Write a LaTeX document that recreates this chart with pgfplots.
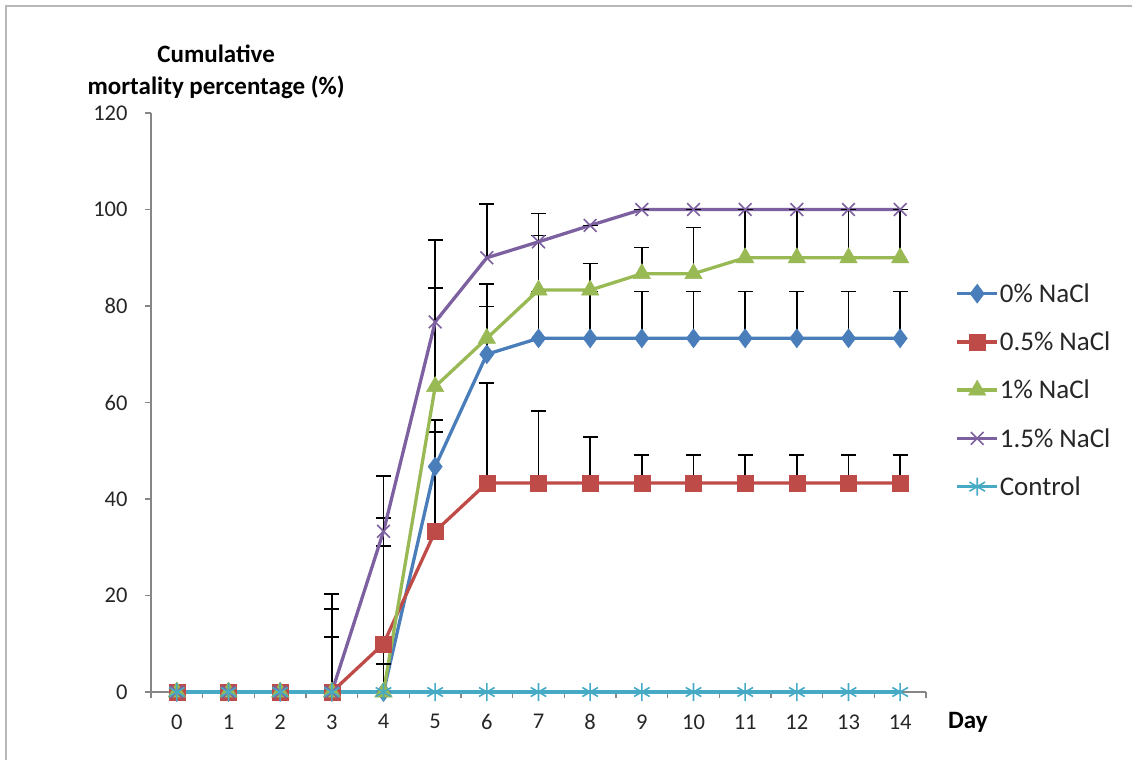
\documentclass[border=0pt]{standalone}
\usepackage{fontspec}
\setmainfont{Carlito}
\usepackage{pgfplots}
\pgfplotsset{compat=1.18}
\definecolor{cBlue}{HTML}{4A7EBB}
\definecolor{cRed}{HTML}{BE4B48}
\definecolor{cGreen}{HTML}{98B954}
\definecolor{cPurple}{HTML}{7D60A0}
\definecolor{cCyan}{HTML}{46AAC5}
\definecolor{axgray}{HTML}{868686}
\definecolor{txt}{HTML}{262626}
\begin{document}
\begin{tikzpicture}[x=1bp,y=1bp]
\useasboundingbox (0,0) rectangle (1132,-760);
\draw[color=black!28, line width=2.2bp] (6,-760) -- (6,-6) -- (1132,-6);
\begin{axis}[
  at={(151bp,-692bp)}, anchor=south west,
  scale only axis, width=775bp, height=579bp,
  xmin=-0.5, xmax=14.5, ymin=0, ymax=120,
  axis x line*=bottom, axis y line*=left,
  axis line style={draw=axgray, line width=1.3bp, -},
  clip=false,
  xtick={0,...,14}, ytick={0,20,...,120},
  minor xtick={-0.5,0.5,...,14.5},
  tick align=outside,
  major tick length=6bp, minor tick length=6bp,
  xtick style={draw=none},
  minor x tick style={draw=axgray, line width=1.3bp},
  ytick style={draw=axgray, line width=1.3bp},
  /pgf/number format/assume math mode=true,
  tick label style={font=\fontsize{22.5bp}{26bp}\selectfont, text=txt},
  xticklabel style={yshift=-13bp},
  yticklabel style={xshift=-14bp},
  xlabel={\textbf{Day}},
  xlabel style={at={(axis description cs:1.054,-0.052)}, anchor=center, font=\fontsize{25bp}{28bp}\selectfont, text=black},
  ylabel={\textbf{Cumulative}\\\textbf{mortality percentage (\%)}},
  ylabel style={at={(axis description cs:0.084,1.071)}, anchor=center, rotate=-90, align=center, font=\fontsize{25bp}{32bp}\selectfont, text=black},
  legend style={draw=none, fill=none, at={(axis description cs:1.034,0.711)}, anchor=north west,
    font=\fontsize{27bp}{30bp}\selectfont, text=txt, row sep=26bp, nodes={inner sep=1bp}},
  legend cell align=left,
  legend image code/.code={\draw[mark repeat=2,mark phase=2,#1] plot coordinates {(0bp,0bp) (20bp,0bp) (40bp,0bp)};},
  every axis plot/.append style={line width=3.3bp},
  error bars/y dir=plus, error bars/y explicit,
  error bars/error bar style={black, line width=1.7bp, solid},
  error bars/error mark options={rotate=90, mark size=7.5bp, black, line width=1.7bp},
]
\addplot[color=cBlue, mark=diamond*, mark size=9.5bp, mark options={solid, fill=cBlue, line width=0.5bp}]
 coordinates {(0,0) +- (0,0) (1,0) +- (0,0) (2,0) +- (0,0) (3,0) +- (0,11.4) (4,0) +- (0,30.3)
 (5,46.7) +- (0,9.7) (6,70) +- (0,9.9) (7,73.3) +- (0,9.7) (8,73.3) +- (0,9.7) (9,73.3) +- (0,9.7)
 (10,73.3) +- (0,9.7) (11,73.3) +- (0,9.7) (12,73.3) +- (0,9.7) (13,73.3) +- (0,9.7) (14,73.3) +- (0,9.7)};
\addlegendentry{0\% NaCl}
\addplot[color=cRed, mark=square*, mark size=8bp, mark options={solid, fill=cRed, line width=0.5bp}]
 coordinates {(0,0) +- (0,0) (1,0) +- (0,0) (2,0) +- (0,0) (3,0) +- (0,17.2) (4,10) +- (0,26.1)
 (5,33.3) +- (0,20.6) (6,43.3) +- (0,20.8) (7,43.3) +- (0,15) (8,43.3) +- (0,9.6) (9,43.3) +- (0,5.8)
 (10,43.3) +- (0,5.8) (11,43.3) +- (0,5.8) (12,43.3) +- (0,5.8) (13,43.3) +- (0,5.8) (14,43.3) +- (0,5.8)};
\addlegendentry{0.5\% NaCl}
\addplot[color=cGreen, mark=triangle*, mark size=10bp, mark options={solid, fill=cGreen, line width=0.5bp}]
 coordinates {(0,0) +- (0,0) (1,0) +- (0,0) (2,0) +- (0,0) (3,0) +- (0,0) (4,0) +- (0,5.8)
 (5,63.3) +- (0,20.5) (6,73.3) +- (0,11.3) (7,83.3) +- (0,11.3) (8,83.3) +- (0,5.5) (9,86.7) +- (0,5.4)
 (10,86.7) +- (0,9.6) (11,90) +- (0,10) (12,90) +- (0,10) (13,90) +- (0,10) (14,90) +- (0,10)};
\addlegendentry{1\% NaCl}
\addplot[color=cPurple, mark=x, mark size=9bp, mark options={solid, line width=1.6bp}]
 coordinates {(0,0) +- (0,0) (1,0) +- (0,0) (2,0) +- (0,0) (3,0) +- (0,20.3) (4,33.3) +- (0,11.5)
 (5,76.7) +- (0,17) (6,90) +- (0,11.2) (7,93.3) +- (0,5.9) (8,96.7) +- (0,0) (9,100) +- (0,0)
 (10,100) +- (0,0) (11,100) +- (0,0) (12,100) +- (0,0) (13,100) +- (0,0) (14,100) +- (0,0)};
\addlegendentry{1.5\% NaCl}
\addplot[color=cCyan, mark=asterisk, mark size=9bp, mark options={solid, line width=1.6bp},
  error bars/y explicit=false, error bars/y dir=none]
 coordinates {(0,0) (1,0) (2,0) (3,0) (4,0) (5,0) (6,0) (7,0) (8,0) (9,0) (10,0) (11,0) (12,0) (13,0) (14,0)};
\addlegendentry{Control}
\end{axis}
\end{tikzpicture}
\end{document}
